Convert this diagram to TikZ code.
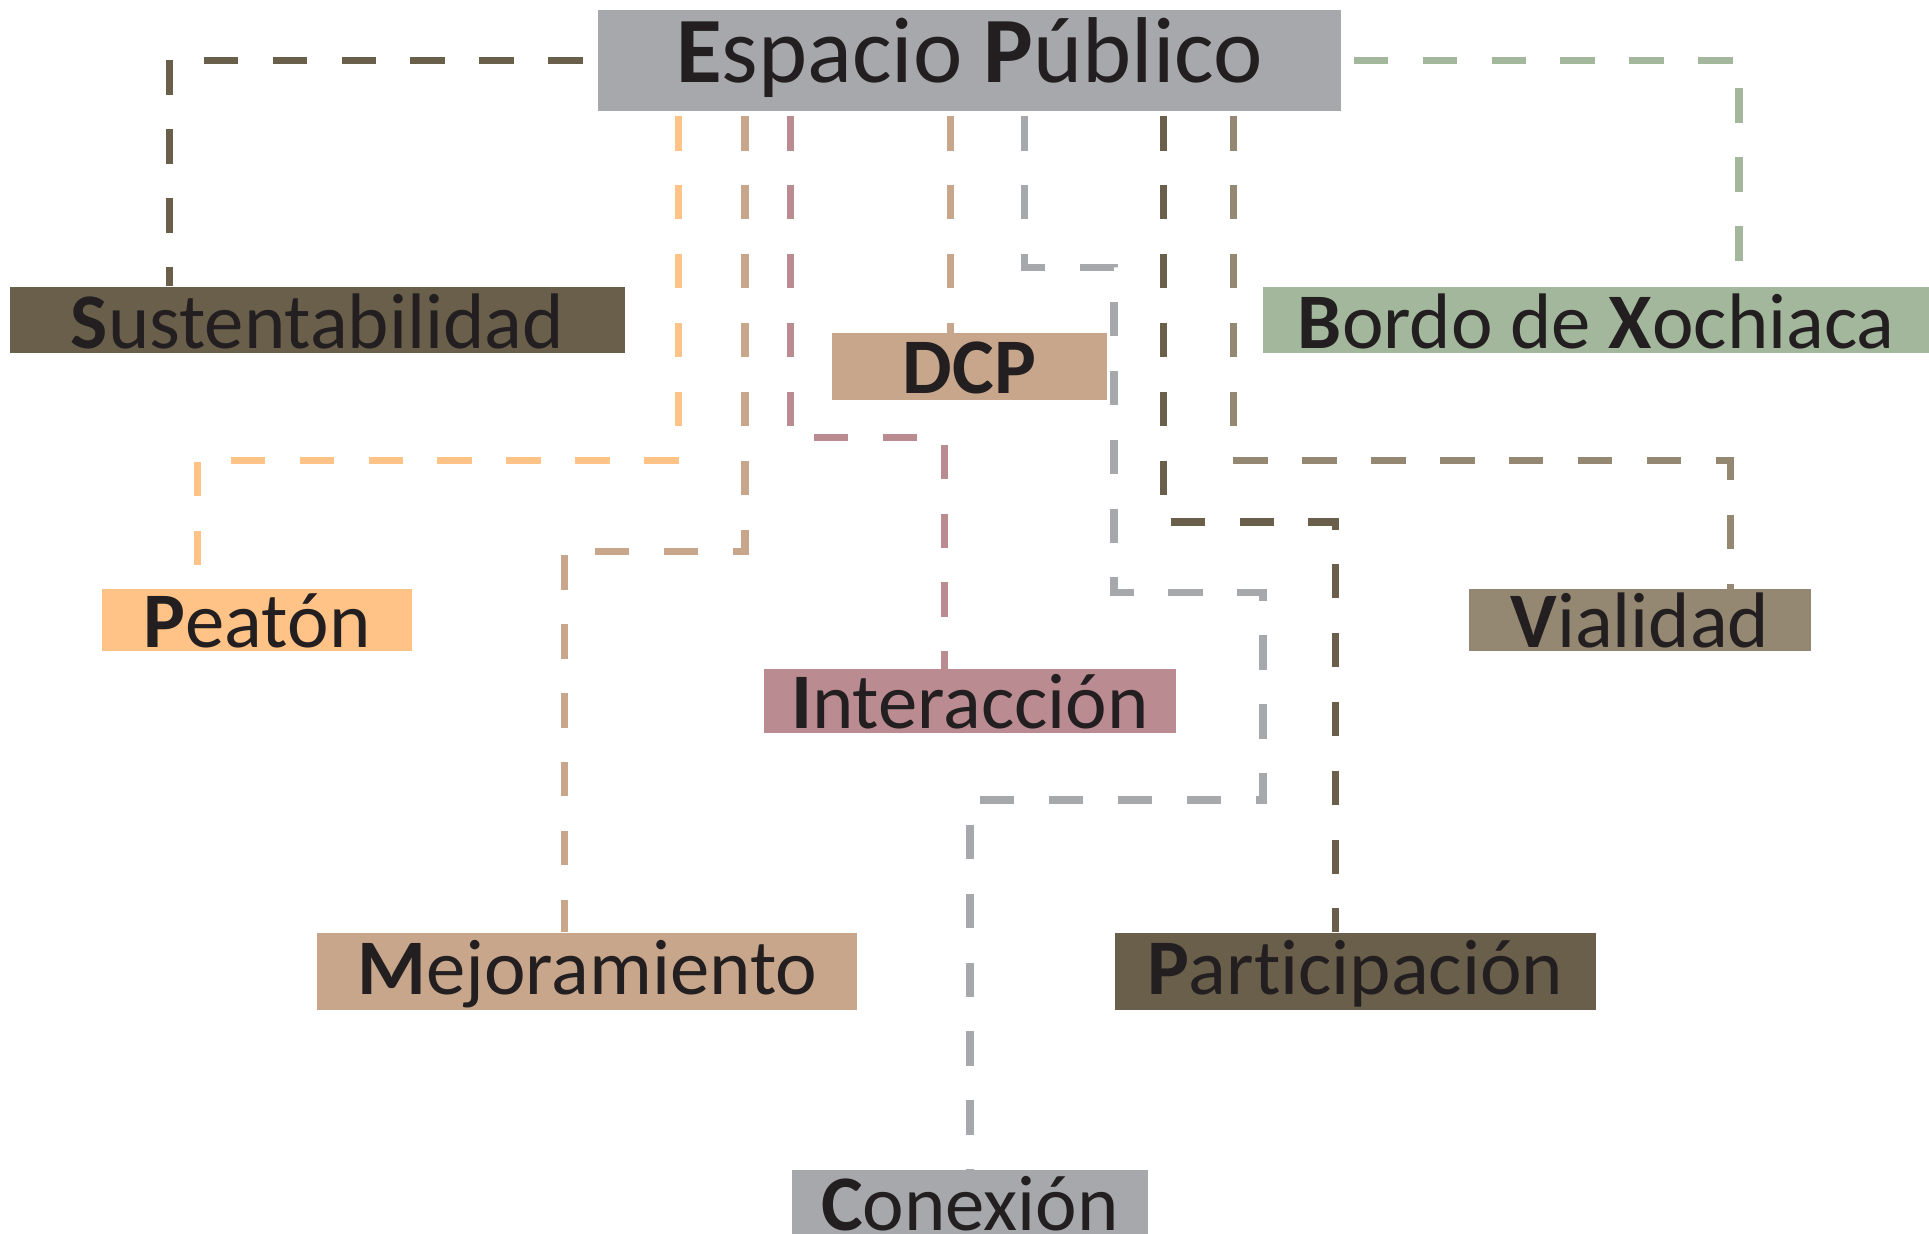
\documentclass[tikz,border=0pt]{standalone}
\usepackage{fontspec}
\setmainfont{Carlito}[RawFeature={-liga;-clig;-calt;-dlig}]
\usetikzlibrary{positioning}

\definecolor{gris}{HTML}{A7A8AC}
\definecolor{cafe}{HTML}{6A5F4B}
\definecolor{verde}{HTML}{A2B79B}
\definecolor{durazno}{HTML}{FFC387}
\definecolor{arena}{HTML}{C8A68B}
\definecolor{malva}{HTML}{BA8C91}
\definecolor{topo}{HTML}{958872}
\definecolor{tinta}{HTML}{231F20}

\begin{document}
\begin{tikzpicture} [
    x=0.5pt, y=-0.5pt,
    tema/.style={rectangle, inner sep=0pt, text=tinta, font=\fontsize{32}{38}\selectfont, text height=25pt, text depth=2pt},
    titulo/.style={tema, font=\fontsize{38}{46}\selectfont, text height=29.5pt, text depth=11.5pt},
    liga/.style={dash pattern=on 14pt off 14pt, line width=3pt}
    ]
    \useasboundingbox (0,0) rectangle (1568,1003);

    %Nodes
    \node[titulo, fill=gris, minimum width=302pt]   (ep)       at (788,49)      {{\bfseries E}spacio {\bfseries P}úblico};
    \node[tema, fill=cafe, minimum width=250pt]     (sust)     at (258,260)     {{\bfseries S}ustentabilidad};
    \node[tema, fill=verde, minimum width=270.5pt]  (bordo)    at (1297.5,260)  {{\bfseries B}ordo de {\bfseries X}ochiaca};
    \node[tema, fill=arena, minimum width=112pt, text height=24.5pt, text depth=2.5pt] (dcp) at (788,298) {\bfseries DCP};
    \node[tema, fill=durazno, minimum width=126pt, text height=23.5pt, text depth=1.5pt] (peaton) at (209,504) {{\bfseries P}eatón};
    \node[tema, fill=topo, minimum width=139pt, text height=23.5pt, text depth=1.5pt] (vialidad) at (1333,504) {{\bfseries V}ialidad};
    \node[tema, fill=malva, minimum width=167.5pt, text height=24pt] (inter) at (788.5,570) {{\bfseries I}nteracción};
    \node[tema, fill=arena, minimum width=219.5pt, text depth=6.5pt] (mejora) at (477.5,789.5) {{\bfseries M}ejoramiento};
    \node[tema, fill=cafe, minimum width=195.5pt, text depth=6.5pt] (partic) at (1101.5,789.5) {{\bfseries P}articipación};
    \node[tema, fill=gris, minimum width=144.5pt, text height=24.5pt, text depth=3pt] (conexion) at (788.5,978.5) {{\bfseries C}onexión};

    %Lines
    \draw[liga, cafe]    ([xshift=-6pt]ep.west) -| ([xshift=65pt]sust.north west);
    \draw[liga, verde]   ([xshift=5pt]ep.east) -| ([xshift=193.5pt]bordo.north west);
    \draw[liga, durazno] ([xshift=33pt,yshift=-2pt]ep.south west) -- ++(0,280) -| ([xshift=39pt]peaton.north west);
    \draw[liga, arena]   ([xshift=60pt,yshift=-2pt]ep.south west) -- ++(0,354) -| ([xshift=100.5pt]mejora.north west);
    \draw[liga, malva]   ([xshift=78.5pt,yshift=-2pt]ep.south west) -- ++(0,261) -| ([xshift=73.5pt]inter.north west);
    \draw[liga, arena]   ([xshift=143.5pt,yshift=-2pt]ep.south west) -- ([xshift=48.5pt]dcp.north west);
    \draw[liga, gris]    ([xshift=173.5pt,yshift=-2pt]ep.south west) -- ++(0,123) -- ++(73,0) -- ++(0,264) -- ++(121,0) -- ++(0,169) -| ([xshift=72.5pt]conexion.north west);
    \draw[liga, cafe]    ([xshift=230pt,yshift=-2pt]ep.south west) -- ++(0,330) -| ([xshift=90pt]partic.north west);
    \draw[liga, topo]    ([xshift=258.5pt,yshift=-2pt]ep.south west) -- ++(0,280) -| ([xshift=106.5pt]vialidad.north west);
\end{tikzpicture}
\end{document}
